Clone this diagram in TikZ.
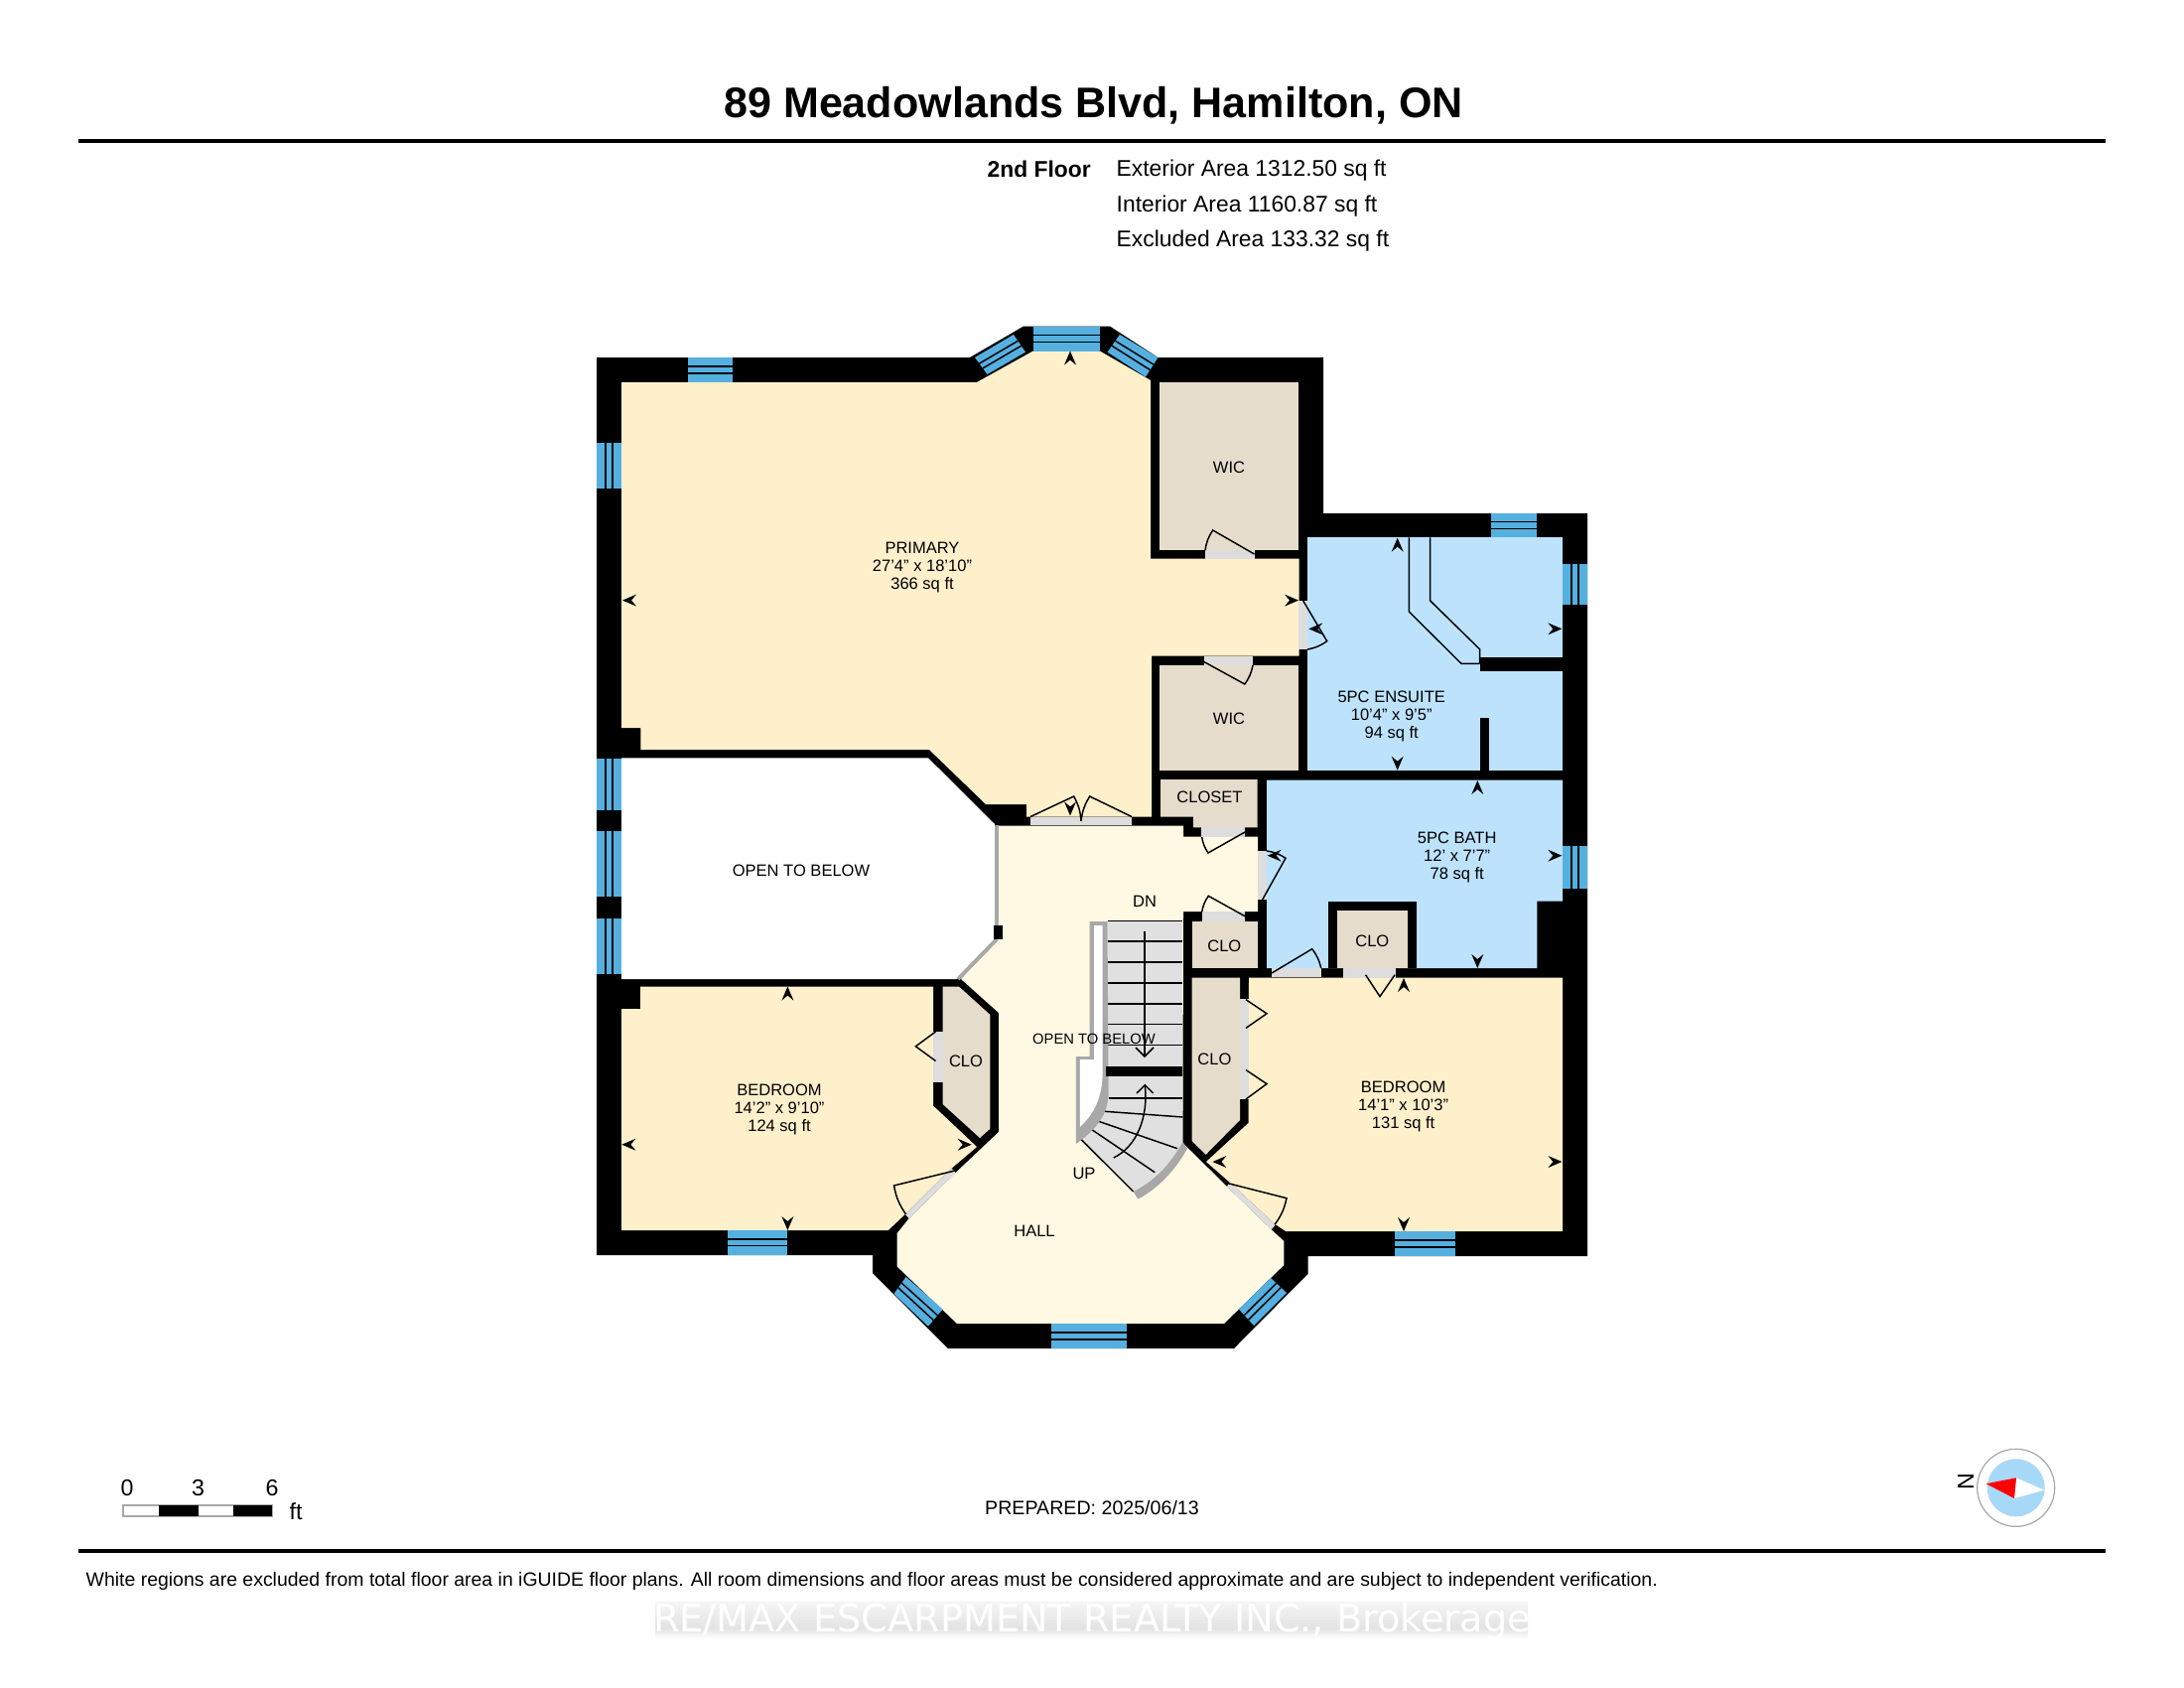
\documentclass[tikz,border=0pt]{standalone}
\usepackage{fontspec}
\setmainfont{Liberation Sans}
\newfontfamily\markfont{DejaVu Sans}
\usetikzlibrary{calc}
\definecolor{bedcream}{HTML}{FFF0CC}
\definecolor{hallcream}{HTML}{FFF8E3}
\definecolor{clotan}{HTML}{E6DCCB}
\definecolor{bathblue}{HTML}{BDE3FC}
\definecolor{paneblue}{HTML}{55B0E0}
\definecolor{sillgrey}{HTML}{DDDDDD}
\definecolor{railgrey}{HTML}{A8A8A8}
\definecolor{treadgrey}{HTML}{E0E0E0}
\definecolor{dialblue}{HTML}{A8D8F8}
\begin{document}
\begin{tikzpicture}[>=stealth,x=0.01cm,y=-0.01cm,
    thinline/.style={line width=.42pt,black},
    roomlabel/.style={font=\fontsize{4.7}{5.1}\selectfont,align=center,inner sep=0pt,text=black},
    infolabel/.style={font=\fontsize{6.5}{7.5}\selectfont,inner sep=0pt,anchor=west},
    scalelabel/.style={font=\fontsize{6.6}{7.5}\selectfont,inner sep=0pt}]
    \def\windowpane#1#2#3#4{%
        \fill[paneblue] #1 -- #2 -- #3 -- #4 -- cycle;
        \draw[thinline] ($#1!.36!#4$) -- ($#2!.36!#3$);
        \draw[thinline] ($#1!.64!#4$) -- ($#2!.64!#3$);}
    \def\doorswing#1#2#3#4{\draw[thinline] #1 -- #2 to[bend #4=12] #3;}
    \def\dimtip#1#2#3{\fill[shift={(#1,#2)},rotate=#3] (0,0) -- (-14,-6) -- (-9,0) -- (-14,6) -- cycle;}
    \useasboundingbox (0,0) rectangle (2200,1700);
    % header
    \node[font=\bfseries\fontsize{12.25}{14}\selectfont,inner sep=0pt] (title) at (1101.5,106.5) {89 Meadowlands Blvd, Hamilton, ON};
    \fill (78.6,139.7) rectangle (2121,143.7);
    \node[font=\bfseries\fontsize{6.5}{7.5}\selectfont,inner sep=0pt,anchor=east] (floor) at (1099.5,170) {2nd Floor};
    \node[infolabel] (exterior) at (1124,171.2) {Exterior Area 1312.50 sq ft};
    \node[infolabel] (interior) at (1124,207.3) {Interior Area 1160.87 sq ft};
    \node[infolabel] (excluded) at (1124,242.5) {Excluded Area 133.32 sq ft};
    % building mass, rooms are laid over it
    \fill (601,360) -- (977,360) -- (1031,328.6) -- (1118,328.6) -- (1166.5,360) -- (1333,360) -- (1333,517) -- (1599,517)
        -- (1599,1265) -- (1317.5,1265) -- (1317.5,1283) -- (1243,1358) -- (955,1358) -- (879,1282) -- (879,1264) -- (601,1264) -- cycle;
    \fill[bedcream] (626,385) -- (984,385) -- (1040.5,353.6) -- (1108,353.6) -- (1159,383) -- (1159,562.5) -- (1308.5,562.5)
        -- (1308.5,660.7) -- (1160,660.7) -- (1160,822.5) -- (1034,822.5) -- (1034,810) -- (993,810) -- (936,755)
        -- (645.4,755) -- (645.4,733) -- (626,733) -- cycle;
    \fill[white] (626,763.3) -- (935,763.3) -- (1002,830) -- (1004,946) -- (964,986) -- (626,986) -- cycle;
    \fill[hallcream] (1006,831.5) -- (1192,831.5) -- (1192,842.7) -- (1267,842.7) -- (1267,918) -- (1192,918) -- (1191.4,1151)
        -- (1236,1195) -- (1280.7,1238.3) -- (1293.3,1250) -- (1293.3,1274) -- (1233,1333) -- (964,1333) -- (903.7,1275.6)
        -- (903.7,1242) -- (915.7,1227) -- (962.6,1181) -- (1006,1140) -- (1006,1020) -- (968,986) -- (1004,946) -- cycle;
    \fill[bedcream] (626,1016) -- (645,1016) -- (645,993.6) -- (940,993.6) -- (940,1113.5) -- (984,1155) -- (958.6,1176.6)
        -- (911.7,1223) -- (894.7,1239) -- (626,1239) -- cycle;
    \fill[bedcream] (1258,984.5) -- (1574,984.5) -- (1574,1240) -- (1295,1240) -- (1285,1233.3) -- (1238.5,1190.5) -- (1215,1170) -- (1257.5,1131) -- cycle;
    \fill[bathblue] (1317.3,541.3) -- (1574,541.3) -- (1574,776) -- (1317.3,776) -- cycle;
    \fill[bathblue] (1276,785.7) -- (1574,785.7) -- (1574,907.7) -- (1548.3,907.7) -- (1548.3,975) -- (1276,975) -- cycle;
    % closets
    \fill[clotan] (1168,385) rectangle (1308,554);
    \fill[clotan] (1168,670) rectangle (1308,776);
    \fill[clotan] (1169,785) -- (1266.7,785) -- (1266.7,833.3) -- (1202,833.3) -- (1202,822.7) -- (1169,822.7) -- cycle;
    \fill[clotan] (1200.7,927.7) rectangle (1266.7,975);
    \fill[clotan] (949.6,993.6) -- (966,993.6) -- (997.4,1022) -- (997.4,1136.7) -- (987,1146) -- (949.6,1112) -- cycle;
    \fill[clotan] (1200.5,984.5) -- (1249,984.5) -- (1249,1128) -- (1214.7,1162.8) -- (1200.5,1149) -- cycle;
    % inner walls of the baths
    \fill (1338.3,907.7) rectangle (1427,975);
    \fill[clotan] (1347.3,917) rectangle (1418,975);
    \fill (1490.7,661.7) rectangle (1574,676);
    \fill (1491,723) rectangle (1500,776);
    \draw[thinline] (1419.3,541.3) -- (1419.3,616) -- (1472,668.3) -- (1490.7,668.3);
    \draw[thinline] (1440.7,541.3) -- (1440.7,605) -- (1490.7,654) -- (1490.7,668.3);
    % open side of the upper hall
    \draw[railgrey,line width=1.1pt] (1004,831) -- (1004,932);
    \draw[railgrey,line width=1.1pt] (1004,946) -- (965,986);
    \fill (1001,931.7) rectangle (1010,946);
    % sills
    \fill[sillgrey] (1038,822.5) rectangle (1140,831.4);
    \fill[sillgrey] (1213.5,554) rectangle (1263.5,563);
    \fill[sillgrey] (1212.6,660.7) rectangle (1262,670);
    \fill[sillgrey] (1210,833.3) rectangle (1254,842.7);
    \fill[sillgrey] (1210.7,918.3) rectangle (1254,927.7);
    \fill[sillgrey] (1308,605) rectangle (1317.3,654);
    \fill[sillgrey] (1266.7,856.7) rectangle (1276,906);
    \fill[sillgrey] (1281,975) rectangle (1330.7,984.3);
    \fill[sillgrey] (1353.3,975) rectangle (1405.7,984.5);
    \fill[sillgrey] (940,1039) rectangle (949.6,1089.5);
    \fill[sillgrey] (1249,1006) rectangle (1258,1107);
    \fill[sillgrey] (958.6,1176.6) -- (962.6,1181) -- (915.7,1227) -- (911.7,1223) -- cycle;
    \fill[sillgrey] (1238.5,1190.5) -- (1285,1233.3) -- (1280.7,1238.3) -- (1236,1195) -- cycle;
    % door leaves
    \doorswing{(1263.5,558)}{(1221.7,534)}{(1214,554)}{right}
    \doorswing{(1212.6,666.4)}{(1253.8,689)}{(1262,670)}{right}
    \doorswing{(1038,822.5)}{(1081.7,802)}{(1089,826.8)}{left}
    \doorswing{(1140,822.5)}{(1097.7,802)}{(1089,826.8)}{right}
    \doorswing{(1254,838)}{(1217,859)}{(1210.7,843)}{left}
    \doorswing{(1254,922.7)}{(1217.3,902.3)}{(1210.7,918.3)}{right}
    \doorswing{(1312.7,605)}{(1336.7,645.7)}{(1317,654)}{left}
    \doorswing{(1271.7,906)}{(1295,864.3)}{(1276,857)}{right}
    \doorswing{(1281,980)}{(1321.7,955.7)}{(1330.7,975)}{left}
    \doorswing{(961.7,1179)}{(900.5,1194)}{(912.6,1223)}{right}
    \doorswing{(1237,1191.7)}{(1296,1206.7)}{(1284,1233.3)}{left}
    \draw[thinline] (942.5,1039) -- (922.4,1053.8) -- (942.5,1068.5);
    \draw[thinline] (1255,1006.7) -- (1276,1020.8) -- (1255,1035.4);
    \draw[thinline] (1255,1077.5) -- (1276,1091.6) -- (1255,1107);
    \draw[thinline] (1375.6,981.8) -- (1390,1003.6) -- (1405,981.8);
    % stairs
    \fill[treadgrey] (1115.5,927.4) rectangle (1191.4,1073.6);
    \foreach \yy in {948,969,990,1011,1031.5,1052.6}
        \draw[thinline] (1115.5,\yy) -- (1191.4,\yy);
    \draw[thinline] (1115.5,927.4) -- (1191.4,927.4);
    \fill[treadgrey] (1116.6,1083.6) -- (1191.4,1083.6) -- (1191.4,1152) .. controls (1178,1174) and (1162,1190) .. (1141.6,1200) -- (1089,1147.5) .. controls (1105,1135) and (1116.6,1120) .. (1116.6,1083.6) -- cycle;
    \draw[thinline] (1116.6,1106) -- (1191.4,1106);
    \draw[thinline] (1112.7,1119.3) -- (1191.4,1125);
    \draw[thinline] (1105,1128.7) -- (1186,1156.7);
    \draw[thinline] (1099.3,1137.3) -- (1163.3,1180.7);
    \draw[thinline] (1089,1147.5) -- (1141.6,1200);
    \fill[railgrey] (1191.4,1150) -- (1196,1156.7) .. controls (1183,1180) and (1166,1197) .. (1146.3,1207.6) -- (1141.6,1200) .. controls (1162,1190) and (1178,1174) .. (1191.4,1150) -- cycle;
    \fill[railgrey] (1097.7,928) -- (1115.5,928) -- (1116.6,1100) .. controls (1116.6,1122) and (1105,1137) .. (1083.8,1152) -- (1083.8,1064) -- (1097.7,1064) -- cycle;
    \fill[white] (1102,932) -- (1110.7,932) -- (1110.7,1079) .. controls (1110.7,1105) and (1102,1122) .. (1087.8,1135) -- (1087.8,1067) -- (1102,1067) -- cycle;
    \fill (1114,1073.6) rectangle (1191.4,1083.6);
    \draw[thinline] (1153,937.8) -- (1153,1064);
    \draw[thinline] (1144,1055) -- (1153,1064) -- (1162,1055);
    \draw[thinline] (1121.7,1166) .. controls (1145,1155) and (1157,1125) .. (1153.3,1092.8);
    \draw[thinline] (1145,1101) -- (1153.3,1092.8) -- (1161.7,1101);
    % windows
    \windowpane{(692.5,360)}{(738,360)}{(738,385)}{(692.5,385)}
    \windowpane{(601,446.4)}{(601,492)}{(626,492)}{(626,446.4)}
    \windowpane{(601,764)}{(601,816)}{(626,816)}{(626,764)}
    \windowpane{(601,836.6)}{(601,903)}{(626,903)}{(626,836.6)}
    \windowpane{(601,925)}{(601,981)}{(626,981)}{(626,925)}
    \windowpane{(733,1239)}{(793,1239)}{(793,1263.5)}{(733,1263.5)}
    \windowpane{(1040.5,328.6)}{(1108,328.6)}{(1108,353.6)}{(1040.5,353.6)}
    \windowpane{(982,360)}{(1021,337)}{(1033,354.6)}{(994.5,377)}
    \windowpane{(1128,337)}{(1166.5,360)}{(1154,379.6)}{(1115.6,354.6)}
    \windowpane{(1501.7,516.7)}{(1547.7,516.7)}{(1547.7,541.3)}{(1501.7,541.3)}
    \windowpane{(1574,568)}{(1574,609.3)}{(1599,609.3)}{(1599,568)}
    \windowpane{(1574,852)}{(1574,895.3)}{(1599,895.3)}{(1599,852)}
    \windowpane{(1405,1240)}{(1465.5,1240)}{(1465.5,1265)}{(1405,1265)}
    \windowpane{(1058.6,1333)}{(1135,1333)}{(1135,1358)}{(1058.6,1358)}
    \windowpane{(912.6,1286)}{(949.6,1318.5)}{(935,1335.7)}{(900.5,1303)}
    \windowpane{(1248,1318.6)}{(1280,1287)}{(1296,1302)}{(1263,1335)}
    % dimension marks
    \dimtip{627}{604.6}{180} \dimtip{1308}{604.6}{0} \dimtip{1078}{353.6}{90} \dimtip{1078}{821.4}{270}
    \dimtip{1407.7}{541.7}{90} \dimtip{1407.7}{775.7}{270} \dimtip{1318.3}{633.3}{180} \dimtip{1573.3}{633.3}{0}
    \dimtip{1488.3}{786}{90} \dimtip{1488.3}{975}{270} \dimtip{1276.7}{861.7}{180} \dimtip{1573.3}{861.7}{0}
    \dimtip{626.4}{1152.7}{180} \dimtip{978.7}{1152.7}{0} \dimtip{793.4}{993.6}{90} \dimtip{793.4}{1239}{270}
    \dimtip{1221.4}{1170}{180} \dimtip{1573.4}{1170}{0} \dimtip{1414}{985}{90} \dimtip{1414}{1240}{270}
    % room labels
    \node[roomlabel] (primary) at (929,571.5) {PRIMARY\\27'4" x 18'10"\\366 sq ft};
    \node[roomlabel] (wicupper) at (1238,470.5) {WIC};
    \node[roomlabel] (wiclower) at (1238,724) {WIC};
    \node[roomlabel] (closet) at (1218.5,803.2) {CLOSET};
    \node[roomlabel] (ensuite) at (1401.7,721.5) {5PC ENSUITE\\10'4" x 9'5"\\94 sq ft};
    \node[roomlabel] (bath) at (1467.7,863.5) {5PC BATH\\12' x 7'7"\\78 sq ft};
    \node[roomlabel] (clobath) at (1382.3,947.5) {CLO};
    \node[roomlabel] (clohall) at (1233.3,953) {CLO};
    \node[roomlabel] (down) at (1153,908) {DN};
    \node[roomlabel] (openleft) at (807,876.5) {OPEN TO BELOW};
    \node[roomlabel,font=\fontsize{4.2}{5}\selectfont] (openhall) at (1102,1046.5) {OPEN TO BELOW};
    \node[roomlabel] (cloleft) at (973,1068.5) {CLO};
    \node[roomlabel] (bedleft) at (785,1117.3) {BEDROOM\\14'2" x 9'10"\\124 sq ft};
    \node[roomlabel] (up) at (1092,1181.5) {UP};
    \node[roomlabel] (hall) at (1042,1240) {HALL};
    \node[roomlabel] (cloright) at (1223.4,1066.3) {CLO};
    \node[roomlabel] (bedright) at (1413.6,1114.5) {BEDROOM\\14'1" x 10'3"\\131 sq ft};
    % scale bar
    \node[scalelabel] (scalezero) at (128,1498.5) {0};
    \node[scalelabel] (scalethree) at (199.5,1498.5) {3};
    \node[scalelabel] (scalesix) at (274,1498.5) {6};
    \node[scalelabel] (scaleunit) at (298,1522) {ft};
    \draw[railgrey,line width=.5pt] (124,1515.7) rectangle (274.3,1527);
    \fill (160,1515.7) rectangle (200,1527);
    \fill (235,1515.7) rectangle (274.3,1527);
    % north dial
    \draw[railgrey,line width=.35pt] (2030.7,1498.3) circle (39);
    \fill[dialblue] (2030.7,1498.3) circle (29);
    \fill[white] (2031,1488.3) -- (2059.3,1500.7) -- (2029,1509) -- cycle;
    \fill[red] (2000.7,1494.3) -- (2031,1488.3) -- (2029,1509) -- cycle;
    \node[scalelabel,rotate=90] (north) at (1980,1492.3) {N};
    % footer
    \node[font=\fontsize{5.58}{7}\selectfont,inner sep=0pt] (prepared) at (1100,1518.5) {PREPARED: 2025/06/13};
    \fill (78.6,1559.5) rectangle (2121,1563.5);
    \node[font=\fontsize{5.53}{7}\selectfont,inner sep=0pt,anchor=west] (disclaimer) at (86,1592.5) {White regions are excluded from total floor area in iGUIDE floor plans. All room dimensions and floor areas must be considered approximate and are subject to independent verification.};
    \shade[top color=gray!8,bottom color=gray!22] (660.6,1613) rectangle (1539,1640);
    \shade[top color=gray!22,bottom color=white] (660.6,1640) rectangle (1539,1650);
    \node[font=\markfont\fontsize{10.87}{12}\selectfont,inner sep=0pt,text=white] (brokerage) at (1100,1633) {RE/MAX ESCARPMENT REALTY INC., Brokerage};
\end{tikzpicture}
\end{document}
